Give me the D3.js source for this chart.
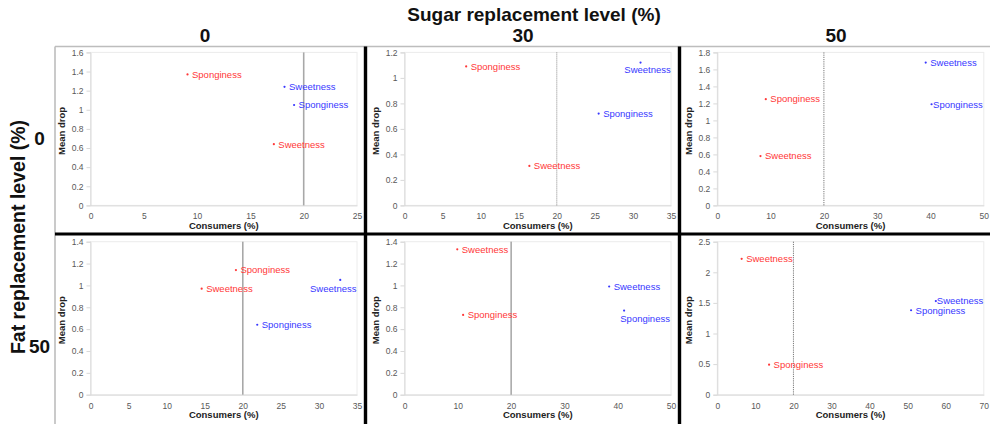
<!DOCTYPE html>
<html>
<head>
<meta charset="utf-8">
<script src="https://cdn.jsdelivr.net/npm/d3@7"></script>
<style>
  html, body { margin: 0; padding: 0; background: #fff; }
  svg { display: block; font-family: "Liberation Sans", Arial, sans-serif; }
</style>
</head>
<body>
<svg id="chart" width="990" height="424"></svg>
<script>
// ---- data -------------------------------------------------------------
const sugarLevels = ["0", "30", "50"];   // columns
const fatLevels = ["0", "50"];           // rows
const attributes = ["Sweetness", "Sponginess"];
const threshold = 20;                    // consumers (%) reference line

// axis extents and tick steps, indexed [fat row][sugar column]
const xMax  = [[25, 35, 50], [35, 50, 70]];
const xStep = [[5, 5, 10], [5, 10, 10]];
const yMax  = [[1.6, 1.2, 1.8], [1.4, 1.4, 2.5]];
const yStep = [[0.2, 0.2, 0.2], [0.2, 0.2, 0.5]];

// red series: consumers (%) and mean drop, each cell = [Sweetness, Sponginess]
const redConsumers = [[[17.2, 9.1], [16.4, 8.1], [8.1, 9.1]],
                      [[14.6, 19.1], [9.9, 11.0], [6.4, 13.6]]];
const redDrop      = [[[0.64, 1.37], [0.31, 1.09], [0.58, 1.25]],
                      [[0.97, 1.14], [1.33, 0.73], [2.22, 0.49]]];

// blue series: consumers (%) and mean drop, each cell = [Sweetness, Sponginess]
const blueConsumers = [[[18.2, 19.1], [31.0, 25.5], [39.1, 40.2]],
                       [[32.8, 21.9], [38.4, 41.2], [57.4, 50.9]]];
const blueDrop      = [[[1.24, 1.05], [1.12, 0.72], [1.68, 1.19]],
                       [[1.05, 0.64], [0.99, 0.77], [1.53, 1.38]]];

// ---- layout & style ---------------------------------------------------
const colors = { red: "#ff3838", blue: "#3838ff" };
const plotLeft = [90.5, 404.5, 717.3];
const plotTop = [52.4, 241.7];
const plotW = 266.5, plotH = 153;
const gridX = [55, 365.5, 679.5, 990];
const gridY = [46.5, 234, 424];
const headerX = [205, 523, 836];
// reference line look per panel
const refStyle = [
  [{c: "#a8a8a8", w: 1.6, d: null}, {c: "#8a8a8a", w: 1, d: "1,1"}, {c: "#555", w: 0.8, d: "1.2,1"}],
  [{c: "#a8a8a8", w: 1.6, d: null}, {c: "#555", w: 0.8, d: null},   {c: "#555", w: 0.8, d: "1.2,1"}]
];
// label placements that differ from the default "right of the point"
const labelNudge = {
  "0-1-blue-Sweetness":  {dx: 7,  dy: 7, anchor: "middle"},
  "1-0-blue-Sweetness":  {dx: -7, dy: 9, anchor: "middle"},
  "1-1-blue-Sponginess": {dx: 21, dy: 8, anchor: "middle"},
  "0-2-blue-Sponginess": {dx: 1.5, dy: 0, anchor: "start"},
  "1-2-blue-Sweetness":  {dx: 1,  dy: 0, anchor: "start"}
};

const svg = d3.select("#chart");

// ---- frame ------------------------------------------------------------
const frame = svg.append("g");
frame.append("line").attr("x1", gridX[0]).attr("x2", gridX[3])
  .attr("y1", gridY[0]).attr("y2", gridY[0])
  .attr("stroke", "#bdbdbd").attr("stroke-width", 1.6);
frame.append("line").attr("x1", gridX[0]).attr("x2", gridX[0])
  .attr("y1", gridY[0]).attr("y2", gridY[2])
  .attr("stroke", "#bdbdbd").attr("stroke-width", 1.6);

// ---- panels -----------------------------------------------------------
fatLevels.forEach((fat, r) => {
  sugarLevels.forEach((sugar, c) => {
    const x = d3.scaleLinear().domain([0, xMax[r][c]]).range([plotLeft[c], plotLeft[c] + plotW]);
    const y = d3.scaleLinear().domain([0, yMax[r][c]]).range([plotTop[r] + plotH, plotTop[r]]);
    const g = svg.append("g");

    // plot area border
    g.append("rect")
      .attr("x", plotLeft[c]).attr("y", plotTop[r])
      .attr("width", plotW).attr("height", plotH)
      .attr("fill", "none").attr("stroke", "#ececec").attr("stroke-width", 1);

    const xTicks = d3.range(0, xMax[r][c] + 1e-9, xStep[r][c]);
    const yTicks = d3.range(0, yMax[r][c] + 1e-9, yStep[r][c]);

    const xa = g.append("g")
      .attr("transform", `translate(0,${plotTop[r] + plotH})`)
      .call(d3.axisBottom(x).tickValues(xTicks).tickSize(0).tickPadding(8)
        .tickFormat(d3.format("d")));
    const ya = g.append("g")
      .attr("transform", `translate(${plotLeft[c]},0)`)
      .call(d3.axisLeft(y).tickValues(yTicks).tickSize(4).tickPadding(3)
        .tickFormat(d => (Math.abs(d - Math.round(d)) < 1e-9 ? d3.format("d")(d) : d3.format(".1f")(d))));
    [xa, ya].forEach(a => {
      a.select(".domain").attr("stroke", "#d9d9d9");
      a.selectAll(".tick line").attr("stroke", "#d9d9d9");
      a.selectAll(".tick text").attr("fill", "#595959")
        .attr("font-size", 8.5).attr("font-family", "Liberation Sans, Arial, sans-serif");
    });

    // 20 % reference line
    const rs = refStyle[r][c];
    g.append("line")
      .attr("x1", x(threshold)).attr("x2", x(threshold))
      .attr("y1", y(yMax[r][c])).attr("y2", y(0))
      .attr("stroke", rs.c).attr("stroke-width", rs.w)
      .attr("stroke-dasharray", rs.d);

    // axis titles
    g.append("text")
      .attr("x", plotLeft[c] + plotW / 2).attr("y", plotTop[r] + plotH + 23.5)
      .attr("text-anchor", "middle").attr("font-size", 9.5).attr("font-weight", "bold")
      .attr("fill", "#222").text("Consumers (%)");
    g.append("text")
      .attr("transform", `translate(${plotLeft[c] - 25.5},${plotTop[r] + plotH / 2 + 2}) rotate(-90)`)
      .attr("text-anchor", "middle").attr("font-size", 9.5).attr("font-weight", "bold")
      .attr("fill", "#222").text("Mean drop");

    // points and labels
    const series = [
      {key: "red", cons: redConsumers[r][c], drop: redDrop[r][c]},
      {key: "blue", cons: blueConsumers[r][c], drop: blueDrop[r][c]}
    ];
    series.forEach(s => {
      const pts = attributes.map((a, i) => ({attr: a, cx: s.cons[i], cy: s.drop[i]}));
      const pg = g.append("g");
      pg.selectAll("circle").data(pts).join("circle")
        .attr("cx", d => x(d.cx)).attr("cy", d => y(d.cy)).attr("r", 1.1)
        .attr("fill", colors[s.key]);
      pg.selectAll("text").data(pts).join("text")
        .each(function (d) {
          const n = labelNudge[`${r}-${c}-${s.key}-${d.attr}`] || {dx: 4.5, dy: 0, anchor: "start"};
          d3.select(this)
            .attr("x", x(d.cx) + n.dx).attr("y", y(d.cy) + n.dy)
            .attr("dy", "0.35em").attr("text-anchor", n.anchor);
        })
        .attr("font-size", 9.5).attr("fill", colors[s.key])
        .text(d => d.attr);
    });
  });
});

// ---- heavy separators ---------------------------------------------------
const sep = svg.append("g").attr("stroke", "#000");
sep.append("line").attr("x1", gridX[0]).attr("x2", gridX[3])
  .attr("y1", gridY[1]).attr("y2", gridY[1]).attr("stroke-width", 3.2);
[gridX[1], gridX[2]].forEach(xx => {
  sep.append("line").attr("x1", xx).attr("x2", xx)
    .attr("y1", gridY[0]).attr("y2", gridY[2]).attr("stroke-width", 3.4);
});

// ---- headers ------------------------------------------------------------
svg.append("text")
  .attr("x", 534).attr("y", 20.5).attr("text-anchor", "middle")
  .attr("font-size", 19).attr("font-weight", "bold").attr("fill", "#111")
  .text("Sugar replacement level (%)");
sugarLevels.forEach((s, c) => {
  svg.append("text")
    .attr("x", headerX[c]).attr("y", 41.5).attr("text-anchor", "middle")
    .attr("font-size", 19).attr("font-weight", "bold").attr("fill", "#111")
    .text(s);
});
svg.append("text")
  .attr("transform", "translate(25,237) rotate(-90)").attr("text-anchor", "middle")
  .attr("font-size", 19.5).attr("font-weight", "bold").attr("fill", "#111")
  .text("Fat replacement level (%)");
fatLevels.forEach((f, r) => {
  svg.append("text")
    .attr("x", 39.5).attr("y", r === 0 ? 145 : 353).attr("text-anchor", "middle")
    .attr("font-size", 19).attr("font-weight", "bold").attr("fill", "#111")
    .text(f);
});
</script>
</body>
</html>
